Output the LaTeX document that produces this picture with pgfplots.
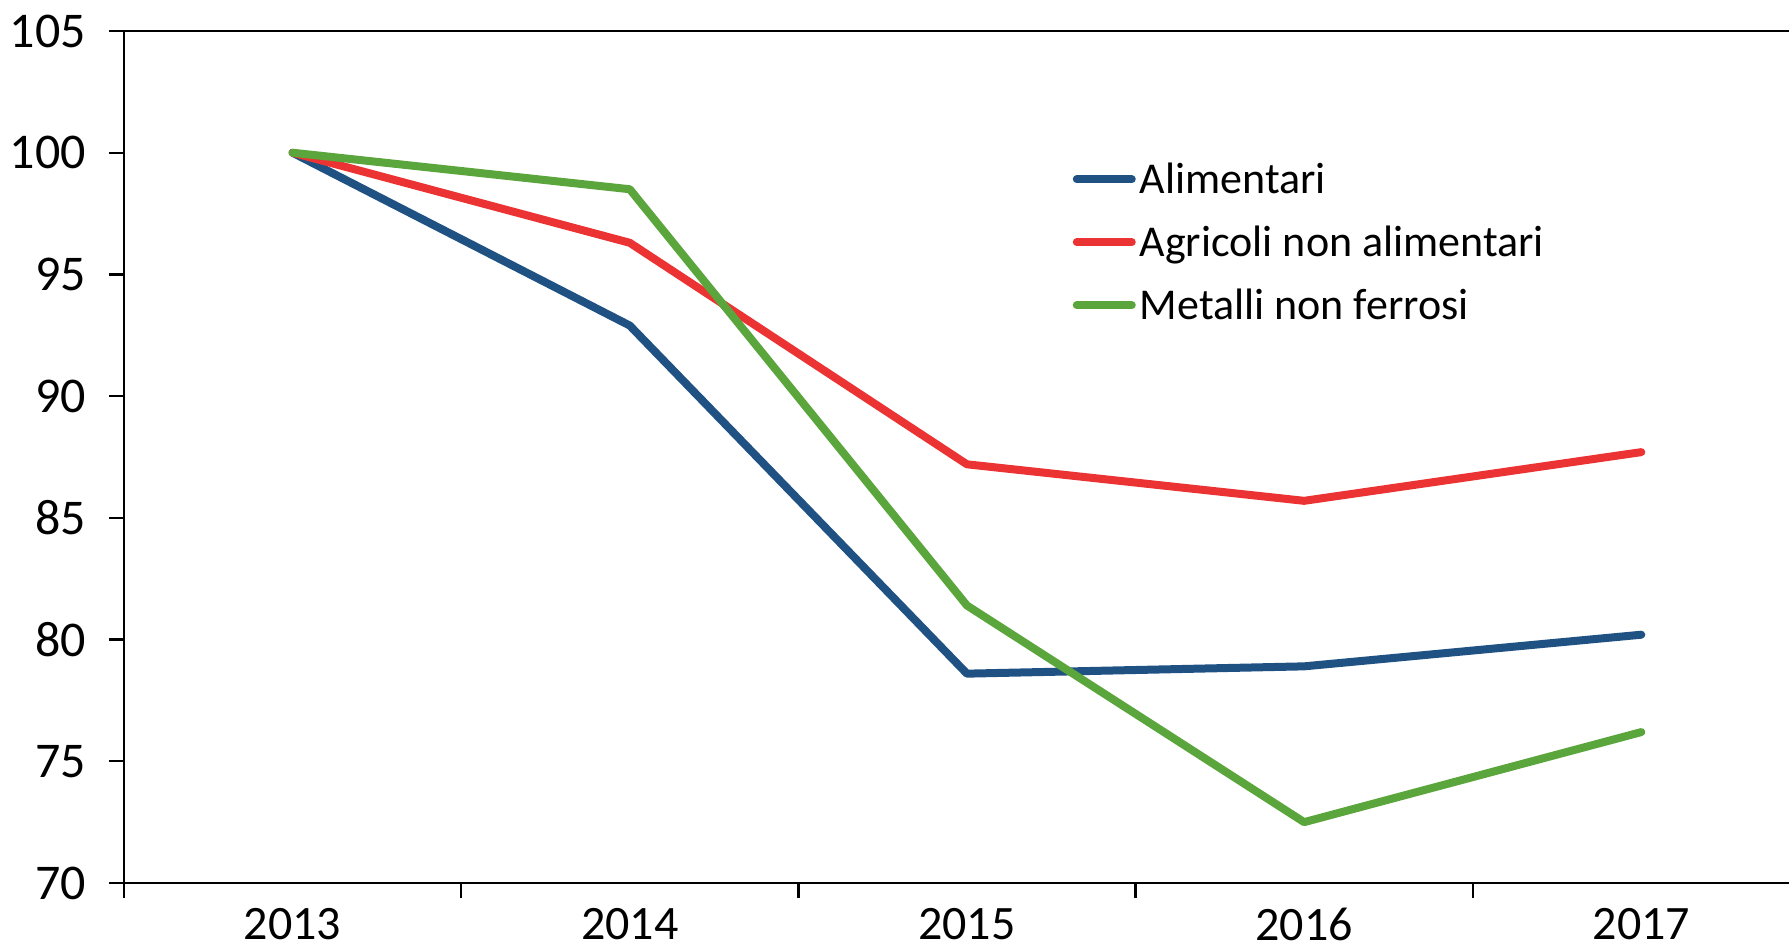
\documentclass[border=0pt]{standalone}
\usepackage{fontspec}
\setmainfont{Carlito}
\usepackage{pgfplots}
\pgfplotsset{compat=1.18}
\definecolor{cblue}{HTML}{1F5282}
\definecolor{cred}{HTML}{EC3334}
\definecolor{cgreen}{HTML}{5BA63C}
\begin{document}
\begin{tikzpicture}
\useasboundingbox (-62pt,-33.5pt) rectangle (832.5pt,441.5pt);
\begin{axis}[
  scale only axis, width=832.5pt, height=426pt,
  at={(0,0)}, anchor=south west,
  xmin=-0.5, xmax=4.438, ymin=70, ymax=105,
  axis x line=box, axis y line=left,
  axis line style={-, line width=1.2pt, black},
  xtick pos=bottom, ytick pos=left,
  tick align=outside,
  xtick={0,1,2,3,4},
  xticklabels={2013,2014,2015,2016,2017},
  minor xtick={-0.5,0.5,1.5,2.5,3.5},
  major x tick style={draw=none},
  minor x tick style={line width=1.2pt, black},
  major y tick style={line width=1.2pt, black},
  major tick length=7.5pt, minor tick length=7.5pt,
  ytick={70,75,...,105},
  tick label style={font=\fontsize{25}{25}\selectfont},
  /pgf/number format/assume math mode=true,
  yticklabel style={xshift=-8pt},
  xticklabel style={inner sep=0pt, yshift=-5pt, font=\fontsize{24}{24}\selectfont},
  legend style={draw=none, fill=none, at={(0.566,0.752)}, anchor=west,
    font=\fontsize{22}{22}\selectfont, row sep=10.7pt,
    nodes={inner sep=2pt}},
  legend cell align=left,
  legend image code/.code={\draw[line width=4pt, line cap=round] (2pt,0pt) -- (29.5pt,0pt);},
  every axis plot/.append style={line width=4pt, line join=round, line cap=round},
]
\addplot[cblue] coordinates {(0,100) (1,92.9) (2,78.6) (3,78.9) (4,80.2)};
\addlegendentry{Alimentari}
\addplot[cred] coordinates {(0,100) (1,96.3) (2,87.2) (3,85.7) (4,87.7)};
\addlegendentry{Agricoli non alimentari}
\addplot[cgreen] coordinates {(0,100) (1,98.5) (2,81.4) (3,72.5) (4,76.2)};
\addlegendentry{Metalli non ferrosi}
\end{axis}
\end{tikzpicture}
\end{document}
